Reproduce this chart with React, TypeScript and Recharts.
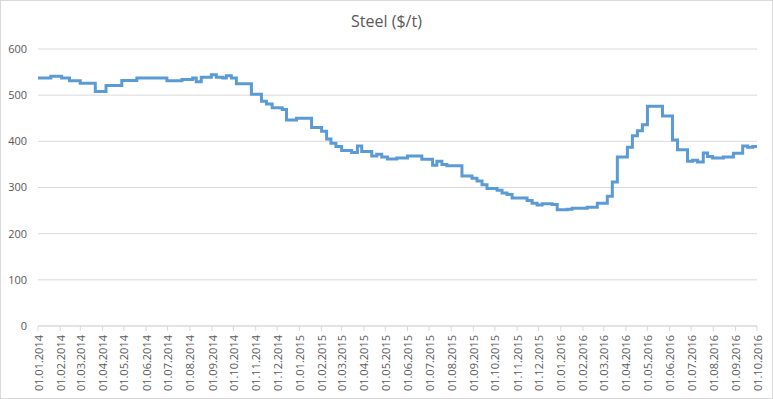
import { LineChart, Line, XAxis, YAxis, CartesianGrid } from "recharts";

// steel price change points (price holds until next date)
const priceDates = [
    "2014-01-01", "2014-01-19", "2014-02-03", "2014-02-14", "2014-03-01", "2014-03-22",
    "2014-04-06", "2014-04-28", "2014-05-19", "2014-06-30", "2014-07-21", "2014-08-05",
    "2014-08-10", "2014-08-17", "2014-08-31", "2014-09-07", "2014-09-16", "2014-09-21",
    "2014-09-28", "2014-10-05", "2014-10-26", "2014-11-09", "2014-11-16", "2014-11-24",
    "2014-12-08", "2014-12-14", "2014-12-28", "2015-01-18", "2015-02-01", "2015-02-08",
    "2015-02-14", "2015-02-21", "2015-03-01", "2015-03-15", "2015-03-23", "2015-03-29",
    "2015-04-12", "2015-04-19", "2015-04-26", "2015-05-04", "2015-05-17", "2015-06-01",
    "2015-06-21", "2015-07-06", "2015-07-12", "2015-07-19", "2015-07-26", "2015-08-16",
    "2015-08-30", "2015-09-06", "2015-09-13", "2015-09-20", "2015-10-04", "2015-10-11",
    "2015-10-18", "2015-10-25", "2015-11-15", "2015-11-22", "2015-11-29", "2015-12-06",
    "2015-12-20", "2015-12-27", "2016-01-10", "2016-01-17", "2016-02-07", "2016-02-21",
    "2016-03-06", "2016-03-13", "2016-03-20", "2016-04-03", "2016-04-10", "2016-04-17",
    "2016-04-24", "2016-05-01", "2016-05-22", "2016-06-05", "2016-06-12", "2016-06-26",
    "2016-07-03", "2016-07-10", "2016-07-18", "2016-07-24", "2016-07-31", "2016-08-15",
    "2016-08-29", "2016-09-11", "2016-09-18", "2016-09-25", "2016-10-01",
];

const priceValues = [
    537, 541, 537, 531, 526, 508,
    521, 532, 537, 531, 534, 537,
    529, 539, 544, 539, 537, 542,
    537, 525, 502, 487, 481, 473,
    469, 446, 450, 430, 422, 405,
    396, 389, 380, 376, 390, 378,
    368, 372, 366, 362, 364, 368,
    361, 348, 357, 350, 347, 325,
    320, 314, 306, 298, 294, 288,
    285, 277, 272, 266, 262, 265,
    263, 252, 253, 255, 257, 266,
    281, 312, 366, 387, 412, 423,
    436, 476, 455, 403, 382, 357,
    359, 355, 375, 367, 364, 366,
    374, 390, 387, 389, 389,
];

const monthLabels = [
    "01.01.2014", "01.02.2014", "01.03.2014", "01.04.2014", "01.05.2014", "01.06.2014",
    "01.07.2014", "01.08.2014", "01.09.2014", "01.10.2014", "01.11.2014", "01.12.2014",
    "01.01.2015", "01.02.2015", "01.03.2015", "01.04.2015", "01.05.2015", "01.06.2015",
    "01.07.2015", "01.08.2015", "01.09.2015", "01.10.2015", "01.11.2015", "01.12.2015",
    "01.01.2016", "01.02.2016", "01.03.2016", "01.04.2016", "01.05.2016", "01.06.2016",
    "01.07.2016", "01.08.2016", "01.09.2016", "01.10.2016",
];

const yTicks = [0, 100, 200, 300, 400, 500, 600];

const START = Date.UTC(2014, 0, 1);
const DAY = 86400000;

const isoToDay = (s: string) => {
    const [y, m, d] = s.split("-").map(Number);
    return Math.round((Date.UTC(y, m - 1, d) - START) / DAY);
};

const labelToDay = (s: string) => {
    const [d, m, y] = s.split(".").map(Number);
    return Math.round((Date.UTC(y, m - 1, d) - START) / DAY);
};

const rows = priceDates.map((d, i) => ({ day: isoToDay(d), price: priceValues[i] }));
const tickDays = monthLabels.map(labelToDay);
const lastDay = tickDays[tickDays.length - 1];

const TEXT = "#595959";
const GRID = "#d9d9d9";

function DateTick(props: any) {
    const { x, y, payload } = props;
    const idx = tickDays.indexOf(payload.value);
    return (
        <text
            x={x}
            y={y}
            transform={`rotate(-90 ${x} ${y})`}
            textAnchor="end"
            dominantBaseline="central"
            fill={TEXT}
            fontSize={11}
        >
            {idx >= 0 ? monthLabels[idx] : ""}
        </text>
    );
}

export default function App() {
    return (
        <div
            style={{
                position: "relative",
                width: 773,
                height: 399,
                background: "#fff",
                fontFamily: "'Open Sans', sans-serif",
            }}
        >
            <style>{"body{margin:0}"}</style>
            <div
                style={{
                    position: "absolute",
                    top: 11,
                    left: 0,
                    width: 773,
                    textAlign: "center",
                    fontSize: 16,
                    lineHeight: "20px",
                    color: TEXT,
                }}
            >
                Steel ($/t)
            </div>
            <LineChart
                width={773}
                height={399}
                data={rows}
                margin={{ top: 49, right: 16, bottom: 0, left: 0 }}
            >
                <CartesianGrid vertical={false} stroke={GRID} />
                <XAxis
                    type="number"
                    dataKey="day"
                    domain={[0, lastDay]}
                    ticks={tickDays}
                    interval={0}
                    height={73}
                    tickSize={5}
                    tickMargin={4}
                    stroke={GRID}
                    tick={<DateTick />}
                    allowDataOverflow
                />
                <YAxis
                    domain={[0, 600]}
                    ticks={yTicks}
                    axisLine={false}
                    tickLine={false}
                    width={38}
                    tickMargin={5}
                    tick={{ fill: TEXT, fontSize: 11 }}
                />
                <Line
                    type="stepAfter"
                    dataKey="price"
                    stroke="#5b9bd5"
                    strokeWidth={3}
                    dot={false}
                    isAnimationActive={false}
                />
            </LineChart>
            <div
                style={{
                    position: "absolute",
                    inset: 0,
                    border: `1px solid ${GRID}`,
                    pointerEvents: "none",
                }}
            />
        </div>
    );
}
